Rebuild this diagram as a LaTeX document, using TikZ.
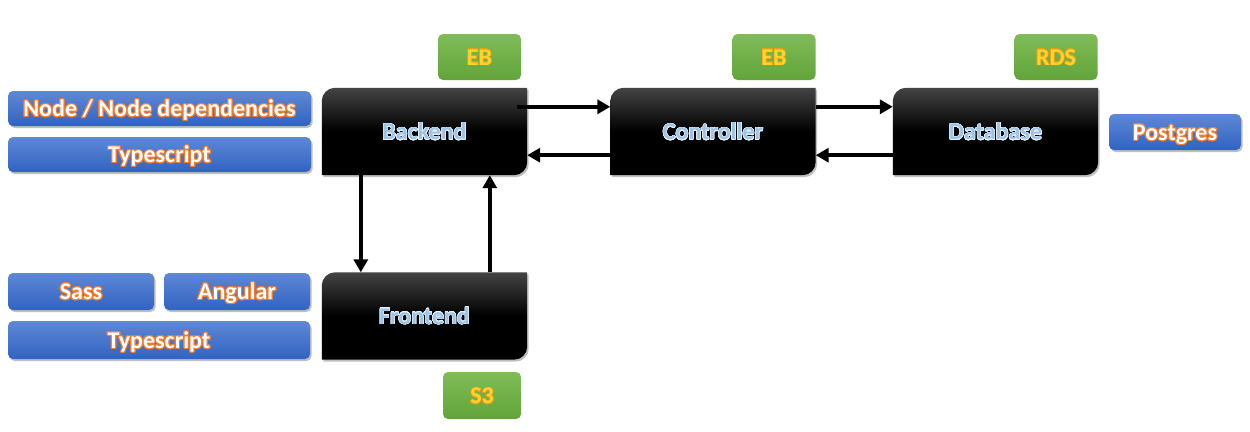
\documentclass[tikz,border=0pt]{standalone}
\usepackage{fontspec}
\setmainfont{Carlito}
\usepackage{contour}
\usetikzlibrary{calc,arrows.meta,backgrounds}
\definecolor{bluetop}{HTML}{5F88D6}
\definecolor{bluebot}{HTML}{3063C2}
\definecolor{greentop}{HTML}{80BC58}
\definecolor{greenbot}{HTML}{62A43A}
\definecolor{txtorange}{HTML}{ED7D31}
\definecolor{txtyellow}{HTML}{FFD22E}
\definecolor{txtgold}{HTML}{E6A116}
\definecolor{txtlblue}{HTML}{9DC3E6}
\definecolor{darktop}{HTML}{444444}
\contourlength{1.1pt}
\contournumber{24}
\newcommand{\bluetext}[1]{\raisebox{-8.3pt}[0pt][0pt]{\contour{txtorange}{\textcolor{white}{#1}}}}
\newcommand{\greentext}[1]{\raisebox{-8.3pt}[0pt][0pt]{\contourlength{0.5pt}\contour{txtgold}{\textcolor{txtyellow}{#1}}}}
\newcommand{\darktext}[1]{\raisebox{-8.3pt}[0pt][0pt]{\contourlength{0.5pt}\contour{white!80!txtlblue}{\textcolor{txtlblue}{#1}}}}
\tikzset{
  shadowed/.style={preaction={fill=black,opacity=0.25,transform canvas={xshift=1.5pt,yshift=-2pt}}},
  bluebox/.style={shadowed,rounded corners=5pt,top color=bluetop,bottom color=bluebot,draw=none,
    font=\bfseries\fontsize{24}{24}\selectfont,inner sep=0pt},
  greenbox/.style={rounded corners=5pt,top color=greentop,bottom color=greenbot,draw=none,
    font=\bfseries\fontsize{24}{24}\selectfont,inner sep=0pt,minimum width=83pt,minimum height=46pt},
  darkbox/.style={font=\bfseries\fontsize{24}{24}\selectfont,inner sep=0pt,minimum width=205pt,minimum height=87pt},
  arr/.style={line width=3.5pt,-{Triangle[length=13pt,width=14pt]}},
}
\newcommand{\darkshape}[1]{%
  \begin{scope}[on background layer]
  \fill[black,opacity=0.25,transform canvas={xshift=1.5pt,yshift=-2pt}]
    (#1.south west) -- ($(#1.north west)+(0,13)$) .. controls ($(#1.north west)+(0,6)$) and ($(#1.north west)+(6,0)$) .. ($(#1.north west)+(13,0)$)
    -- (#1.north east) -- ($(#1.south east)+(0,-13)$) .. controls ($(#1.south east)+(0,-6)$) and ($(#1.south east)+(-6,0)$) .. ($(#1.south east)+(-13,0)$) -- cycle;
  \shade[top color=darktop,bottom color=black,middle color=black]
    (#1.south west) -- ($(#1.north west)+(0,13)$) .. controls ($(#1.north west)+(0,6)$) and ($(#1.north west)+(6,0)$) .. ($(#1.north west)+(13,0)$)
    -- (#1.north east) -- ($(#1.south east)+(0,-13)$) .. controls ($(#1.south east)+(0,-6)$) and ($(#1.south east)+(-6,0)$) .. ($(#1.south east)+(-13,0)$) -- cycle;
  \end{scope}}
\begin{document}
\begin{tikzpicture}[x=1pt,y=-1pt]
\useasboundingbox (0,0) rectangle (1250,431);
% dark boxes
\node[darkbox] (back) at (424.5,131.5) {\darktext{Backend}};
\node[darkbox] (ctrl) at (713,131.5) {\darktext{Controller}};
\node[darkbox] (db) at (995.5,131.5) {\darktext{Database}};
\node[darkbox] (front) at (424.5,316) {\darktext{Frontend}};
\darkshape{back}\darkshape{ctrl}\darkshape{db}\darkshape{front}
% green boxes
\node[greenbox] (eb1) at (479.5,57) {\greentext{EB}};
\node[greenbox] (eb2) at (774,57) {\greentext{EB}};
\node[greenbox] (rds) at (1056,57) {\greentext{RDS}};
\node[greenbox,minimum width=78pt,minimum height=47pt] (s3) at (482,395.5) {\greentext{S3}};
% blue boxes
\node[bluebox,minimum width=303pt,minimum height=35pt] (nodedep) at (159.5,108.5) {\bluetext{Node / Node dependencies}};
\node[bluebox,minimum width=303pt,minimum height=35pt] (ts1) at (159.5,154.5) {\bluetext{Typescript}};
\node[bluebox,minimum width=146pt,minimum height=37pt] (sass) at (81,291.5) {\bluetext{Sass}};
\node[bluebox,minimum width=146pt,minimum height=37pt] (ang) at (237,291.5) {\bluetext{Angular}};
\node[bluebox,minimum width=302pt,minimum height=38pt] (ts2) at (159,340) {\bluetext{Typescript}};
\node[bluebox,minimum width=132pt,minimum height=36pt] (pg) at (1175,132) {\bluetext{Postgres}};
% arrows
\draw[arr] ($(back.north east)+(-10,19)$) -- ($(ctrl.north west)+(0,19)$);
\draw[arr] ($(ctrl.south west)+(0,-20)$) -- ($(back.south east)+(0,-20)$);
\draw[arr] ($(ctrl.north east)+(0,19)$) -- ($(db.north west)+(0,19)$);
\draw[arr] ($(db.south west)+(0,-20)$) -- ($(ctrl.south east)+(0,-20)$);
\draw[arr] ($(back.south west)+(39,0)$) -- ($(front.north west)+(39,0)$);
\draw[arr] ($(front.north west)+(168,0)$) -- ($(back.south west)+(168,0)$);
\end{tikzpicture}
\end{document}
